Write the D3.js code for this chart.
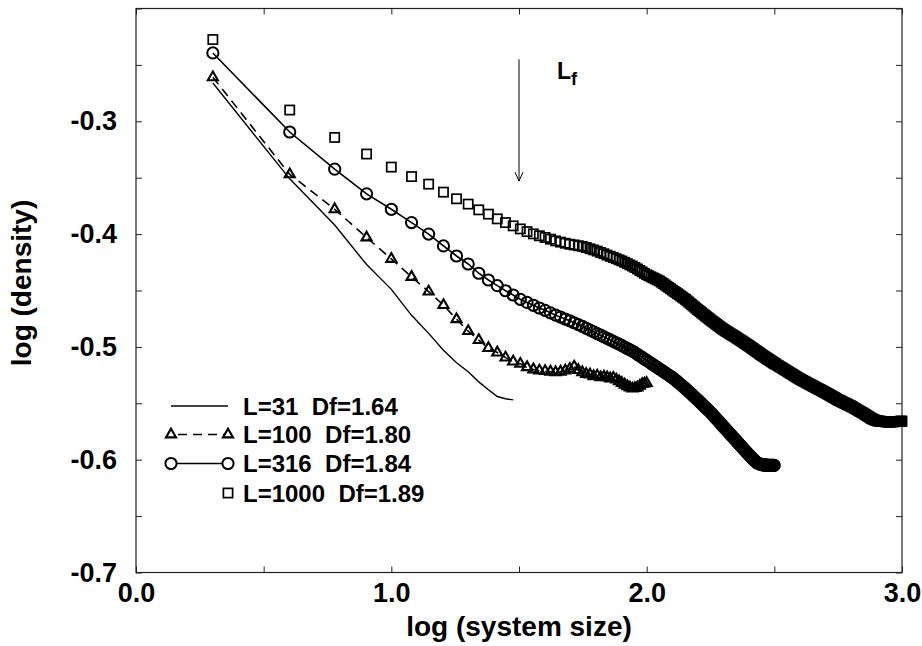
<!DOCTYPE html>
<html>
<head>
<meta charset="utf-8">
<script src="https://cdn.jsdelivr.net/npm/d3@7"></script>
<style>
  body { margin: 0; background: #fff; }
  svg { display: block; }
  text { font-family: "Liberation Sans", Arial, sans-serif; font-weight: bold; fill: #000; }
</style>
</head>
<body>
<svg id="chart" width="922" height="646"></svg>
<script>
// [system size, log(density)]
const l31 = [[2,-0.266],[4,-0.351],[6,-0.392],[8,-0.427],[10,-0.449],[12,-0.472],[14,-0.488],[16,-0.503],
  [18,-0.514],[20,-0.522],[22,-0.531],[24,-0.538],[26,-0.544],[28,-0.546],[30,-0.547]];

const l100 = [[2,-0.261],[4,-0.347],[6,-0.378],[8,-0.403],[10,-0.422],[12,-0.438],[14,-0.451],[16,-0.463],
  [18,-0.4755],[20,-0.486],[22,-0.494],[24,-0.501],[26,-0.505],[28,-0.5095],[30,-0.513],[32,-0.515],
  [34,-0.518],[36,-0.520],[38,-0.521],[40,-0.5215],[42,-0.522],[44,-0.5225],[46,-0.522],[48,-0.521],
  [50,-0.5195],[52,-0.5175],[54,-0.5205],[56,-0.5225],[58,-0.524],[60,-0.5245],[62,-0.526],[64,-0.5255],
  [66,-0.527],[68,-0.5265],[70,-0.527],[72,-0.528],[74,-0.5275],[76,-0.529],[78,-0.5305],[80,-0.532],
  [82,-0.5335],[84,-0.535],[86,-0.536],[88,-0.537],[90,-0.5365],[92,-0.536],[94,-0.5345],[96,-0.533],
  [98,-0.5325],[100,-0.532]];

const l316 = [[2,-0.2394],[4,-0.3095],[6,-0.3424],[8,-0.3643],[10,-0.378],[12,-0.3898],[14,-0.400],[16,-0.4105],
  [18,-0.4194],[20,-0.4265],[22,-0.4347],[24,-0.4407],[26,-0.4457],[28,-0.4502],[30,-0.454],[32,-0.4578],
  [34,-0.4606],[36,-0.4631],[38,-0.4655],[40,-0.4676],[42,-0.4698],[44,-0.4719],[46,-0.4736],[48,-0.4753],
  [50,-0.4769],[52,-0.4786],[54,-0.4802],[56,-0.4818],[58,-0.4835],[60,-0.4851],[62,-0.4867],[64,-0.4882],
  [66,-0.4896],[68,-0.4911],[70,-0.4925],[72,-0.4938],[74,-0.4951],[76,-0.4964],[78,-0.4976],[80,-0.4989],
  [82,-0.5002],[84,-0.5014],[86,-0.5026],[88,-0.5038],[90,-0.5051],[92,-0.5066],[94,-0.508],[96,-0.5093],
  [98,-0.5107],[100,-0.512],[102,-0.5133],[104,-0.5146],[106,-0.5158],[108,-0.517],[110,-0.5182],[112,-0.5194],
  [114,-0.5205],[116,-0.5217],[118,-0.5228],[120,-0.5239],[122,-0.525],[124,-0.526],[126,-0.5271],[128,-0.5284],
  [130,-0.5296],[132,-0.5309],[134,-0.5321],[136,-0.5334],[138,-0.5346],[140,-0.5358],[142,-0.537],[144,-0.5383],
  [146,-0.5395],[148,-0.5408],[150,-0.542],[152,-0.5432],[154,-0.5444],[156,-0.5456],[158,-0.5467],[160,-0.5479],
  [162,-0.5491],[164,-0.5503],[166,-0.5515],[168,-0.5526],[170,-0.5537],[172,-0.5548],[174,-0.5559],[176,-0.557],
  [178,-0.5582],[180,-0.5593],[182,-0.5605],[184,-0.5617],[186,-0.5629],[188,-0.5641],[190,-0.5652],[192,-0.5663],
  [194,-0.5675],[196,-0.5686],[198,-0.5697],[200,-0.5708],[202,-0.5719],[204,-0.5729],[206,-0.574],[208,-0.575],
  [210,-0.5761],[212,-0.5771],[214,-0.5781],[216,-0.5791],[218,-0.5801],[220,-0.5811],[222,-0.5821],[224,-0.5831],
  [226,-0.5841],[228,-0.585],[230,-0.586],[232,-0.5869],[234,-0.5878],[236,-0.5887],[238,-0.5897],[240,-0.5906],
  [242,-0.5915],[244,-0.5924],[246,-0.5933],[248,-0.5941],[250,-0.595],[252,-0.5958],[254,-0.5966],[256,-0.5974],
  [258,-0.5982],[260,-0.599],[262,-0.5998],[264,-0.6005],[266,-0.6013],[268,-0.602],[270,-0.6025],[272,-0.603],
  [274,-0.6033],[276,-0.6036],[278,-0.6039],[280,-0.6042],[282,-0.6044],[284,-0.6045],[286,-0.6046],[288,-0.6046],
  [290,-0.6047],[292,-0.6047],[294,-0.6048],[296,-0.6048],[298,-0.6049],[300,-0.6049],[302,-0.605],[304,-0.605],
  [306,-0.605],[308,-0.605],[310,-0.605],[312,-0.605],[314,-0.605],[316,-0.605]];

const l1000 = [[2,-0.2275],[4,-0.290],[6,-0.3143],[8,-0.329],[10,-0.3406],[12,-0.349],[14,-0.3557],[16,-0.3628],
  [18,-0.3687],[20,-0.3734],[22,-0.3785],[24,-0.3823],[26,-0.3865],[28,-0.3898],[30,-0.3927],[32,-0.3954],
  [34,-0.3978],[36,-0.3998],[38,-0.4015],[40,-0.403],[42,-0.4045],[44,-0.406],[46,-0.4071],[48,-0.4081],
  [50,-0.409],[52,-0.4096],[54,-0.4103],[56,-0.4109],[58,-0.4119],[60,-0.413],[62,-0.414],[64,-0.4151],
  [66,-0.4163],[68,-0.4174],[70,-0.4186],[72,-0.4197],[74,-0.4207],[76,-0.4218],[78,-0.4228],[80,-0.4238],
  [82,-0.425],[84,-0.4262],[86,-0.4273],[88,-0.4284],[90,-0.4296],[92,-0.4309],[94,-0.4322],[96,-0.4335],
  [98,-0.4348],[100,-0.436],[102,-0.4369],[104,-0.4379],[106,-0.4388],[108,-0.4397],[110,-0.4406],[112,-0.4414],
  [114,-0.4426],[116,-0.4438],[118,-0.445],[120,-0.4462],[122,-0.4473],[124,-0.4484],[126,-0.4496],[128,-0.4507],
  [130,-0.4517],[132,-0.4528],[134,-0.4538],[136,-0.4549],[138,-0.4559],[140,-0.4569],[142,-0.4579],[144,-0.4591],
  [146,-0.4602],[148,-0.4614],[150,-0.4625],[152,-0.4636],[154,-0.4646],[156,-0.4657],[158,-0.4668],[160,-0.4677],
  [162,-0.4687],[164,-0.4697],[166,-0.4707],[168,-0.4716],[170,-0.4725],[172,-0.4734],[174,-0.4743],[176,-0.4752],
  [178,-0.4761],[180,-0.4769],[182,-0.4777],[184,-0.4785],[186,-0.4793],[188,-0.4801],[190,-0.4809],[192,-0.4817],
  [194,-0.4825],[196,-0.4832],[198,-0.4839],[200,-0.4846],[202,-0.4852],[204,-0.4858],[206,-0.4864],[208,-0.487],
  [210,-0.4876],[212,-0.4882],[214,-0.4888],[216,-0.4893],[218,-0.4899],[220,-0.4904],[222,-0.491],[224,-0.4915],
  [226,-0.4921],[228,-0.4927],[230,-0.4933],[232,-0.4938],[234,-0.4944],[236,-0.4949],[238,-0.4955],[240,-0.496],
  [242,-0.4966],[244,-0.4971],[246,-0.4977],[248,-0.4982],[250,-0.4987],[252,-0.4992],[254,-0.4998],[256,-0.5003],
  [258,-0.5009],[260,-0.5014],[262,-0.502],[264,-0.5025],[266,-0.503],[268,-0.5035],[270,-0.504],[272,-0.5045],
  [274,-0.505],[276,-0.5055],[278,-0.5061],[280,-0.5066],[282,-0.5071],[284,-0.5075],[286,-0.508],[288,-0.5084],
  [290,-0.5089],[292,-0.5093],[294,-0.5098],[296,-0.5102],[298,-0.5107],[300,-0.5111],[302,-0.5115],[304,-0.5119],
  [306,-0.5124],[308,-0.5128],[310,-0.5132],[312,-0.5136],[314,-0.5141],[316,-0.5145],[318,-0.5149],[320,-0.5152],
  [324,-0.516],[328,-0.5167],[332,-0.5175],[336,-0.5182],[340,-0.5189],[344,-0.5196],[348,-0.5203],[352,-0.521],
  [356,-0.5217],[360,-0.5224],[364,-0.5231],[368,-0.5237],[372,-0.5244],[376,-0.525],[380,-0.5257],[384,-0.5263],
  [388,-0.527],[392,-0.5276],[396,-0.5282],[400,-0.5288],[404,-0.5293],[408,-0.5298],[412,-0.5303],[416,-0.5308],
  [420,-0.5313],[424,-0.5318],[428,-0.5323],[432,-0.5328],[436,-0.5333],[440,-0.5337],[444,-0.5342],[448,-0.5347],
  [452,-0.5352],[456,-0.5356],[460,-0.5361],[464,-0.5365],[468,-0.537],[472,-0.5374],[476,-0.5378],[480,-0.5382],
  [484,-0.5387],[488,-0.5391],[492,-0.5396],[496,-0.54],[500,-0.5404],[504,-0.5408],[508,-0.5413],[512,-0.5417],
  [516,-0.5422],[520,-0.5426],[524,-0.543],[528,-0.5434],[532,-0.5439],[536,-0.5443],[540,-0.5447],[544,-0.5451],
  [548,-0.5455],[552,-0.5459],[556,-0.5464],[560,-0.5468],[564,-0.5472],[568,-0.5475],[572,-0.5478],[576,-0.5481],
  [580,-0.5485],[584,-0.5488],[588,-0.5492],[592,-0.5495],[596,-0.5498],[600,-0.5501],[604,-0.5504],[608,-0.5507],
  [612,-0.5511],[616,-0.5514],[620,-0.5517],[624,-0.552],[628,-0.5523],[632,-0.5526],[636,-0.553],[640,-0.5533],
  [648,-0.554],[656,-0.5547],[664,-0.5554],[672,-0.5561],[680,-0.5568],[688,-0.5574],[696,-0.5581],[704,-0.5587],
  [712,-0.5594],[720,-0.5601],[728,-0.5608],[736,-0.5615],[744,-0.5622],[752,-0.5629],[760,-0.5635],[768,-0.564],
  [776,-0.5645],[784,-0.5649],[792,-0.5653],[800,-0.5656],[808,-0.5657],[816,-0.5658],[824,-0.5659],[832,-0.566],
  [840,-0.5661],[848,-0.5662],[856,-0.5663],[864,-0.5664],[872,-0.5665],[880,-0.5665],[888,-0.5665],[896,-0.5665],
  [904,-0.5665],[912,-0.5664],[920,-0.5664],[928,-0.5663],[936,-0.5663],[944,-0.5662],[952,-0.5662],[960,-0.5661],
  [968,-0.5661],[976,-0.566],[984,-0.566],[992,-0.5659],[996,-0.5659],[1000,-0.5658]];

const legendLabels = ['L=31  Df=1.64', 'L=100  Df=1.80', 'L=316  Df=1.84', 'L=1000  Df=1.89'];

const xTicks = [0, 0.5, 1, 1.5, 2, 2.5, 3];
const xTickLabels = ['0.0', '', '1.0', '', '2.0', '', '3.0'];
const yTicks = [-0.7, -0.65, -0.6, -0.55, -0.5, -0.45, -0.4, -0.35, -0.3, -0.25, -0.2];
const yTickLabels = ['-0.7', '', '-0.6', '', '-0.5', '', '-0.4', '', '-0.3', '', ''];

// arrow marking L_f
const arrowX = 1.5, arrowTop = -0.245, arrowTip = -0.353;

const svg = d3.select('#chart');
const x = d3.scaleLinear().domain([0, 3]).range([136, 902]);
const y = d3.scaleLinear().domain([-0.7, -0.2]).range([572.5, 8.5]);
const px = d => x(Math.log10(d[0]));
const py = d => y(d[1]);

function styleAxis(g) {
  g.select('.domain').remove();
  g.selectAll('line').attr('stroke', '#222').attr('stroke-width', 1);
  g.selectAll('text').attr('font-size', 27).attr('font-family', '"Liberation Sans", Arial, sans-serif')
    .attr('font-weight', 'bold').attr('fill', '#000');
}

svg.append('g').attr('transform', 'translate(0,572.5)')
  .call(d3.axisBottom(x).tickValues(xTicks).tickSize(-6).tickPadding(10).tickFormat((d, i) => xTickLabels[i]))
  .call(styleAxis);
svg.append('g').attr('transform', 'translate(0,8.5)')
  .call(d3.axisTop(x).tickValues(xTicks).tickSize(-6).tickFormat(''))
  .call(styleAxis);
svg.append('g').attr('transform', 'translate(136,0)')
  .call(d3.axisLeft(y).tickValues(yTicks).tickSize(-6).tickPadding(19).tickFormat((d, i) => yTickLabels[i]))
  .call(styleAxis);
svg.append('g').attr('transform', 'translate(902,0)')
  .call(d3.axisRight(y).tickValues(yTicks).tickSize(-6).tickFormat(''))
  .call(styleAxis);

svg.append('rect')
  .attr('x', 136).attr('y', 8.5).attr('width', 766).attr('height', 564)
  .attr('fill', 'none').attr('stroke', '#222').attr('stroke-width', 1.2);

// axis titles
svg.append('text').attr('x', 519).attr('y', 636).attr('text-anchor', 'middle')
  .attr('font-size', 28).text('log (system size)');
svg.append('text').attr('transform', 'translate(31,283) rotate(-90)').attr('text-anchor', 'middle')
  .attr('font-size', 28).text('log (density)');

const line = d3.line().x(px).y(py);
const tri = d3.symbol(d3.symbolTriangle, 44);

// L=31
svg.append('path').datum(l31).attr('d', line)
  .attr('fill', 'none').attr('stroke', '#000').attr('stroke-width', 1.4);

// L=100
svg.append('path').datum(l100).attr('d', line)
  .attr('fill', 'none').attr('stroke', '#000').attr('stroke-width', 1.6).attr('stroke-dasharray', '9,6');
svg.append('g').selectAll('path').data(l100).join('path')
  .attr('d', tri)
  .attr('transform', d => `translate(${px(d)},${py(d)})`)
  .attr('fill', 'none').attr('stroke', '#000').attr('stroke-width', 2.1);

// L=316
svg.append('path').datum(l316).attr('d', line)
  .attr('fill', 'none').attr('stroke', '#000').attr('stroke-width', 1.6);
svg.append('g').selectAll('circle').data(l316).join('circle')
  .attr('cx', px).attr('cy', py).attr('r', 5.6)
  .attr('fill', 'none').attr('stroke', '#000').attr('stroke-width', 2);

// L=1000
svg.append('g').selectAll('rect').data(l1000).join('rect')
  .attr('x', d => px(d) - 4.6).attr('y', d => py(d) - 4.6)
  .attr('width', 9.2).attr('height', 9.2)
  .attr('fill', 'none').attr('stroke', '#000').attr('stroke-width', 1.7);

// arrow and L_f label
svg.append('line')
  .attr('x1', x(arrowX)).attr('x2', x(arrowX)).attr('y1', y(arrowTop)).attr('y2', y(arrowTip))
  .attr('stroke', '#000').attr('stroke-width', 1);
svg.append('path')
  .attr('d', `M${x(arrowX) - 4},${y(arrowTip) - 9} L${x(arrowX)},${y(arrowTip)} L${x(arrowX) + 4},${y(arrowTip) - 9}`)
  .attr('fill', 'none').attr('stroke', '#000').attr('stroke-width', 1);
const lf = svg.append('text').attr('x', 557).attr('y', 79).attr('font-size', 23);
lf.append('tspan').text('L');
lf.append('tspan').attr('font-size', 18).attr('dy', 6).text('f');

// legend
const legY = [406, 434.5, 463.5, 493];
const lx0 = 171, lx1 = 228;
const leg = svg.append('g');
leg.append('line').attr('x1', lx0).attr('x2', lx1).attr('y1', legY[0]).attr('y2', legY[0])
  .attr('stroke', '#000').attr('stroke-width', 1.4);
leg.append('line').attr('x1', lx0 + 4).attr('x2', lx1 - 4).attr('y1', legY[1]).attr('y2', legY[1])
  .attr('stroke', '#000').attr('stroke-width', 1.6).attr('stroke-dasharray', '9,6').attr('stroke-dashoffset', -3);
[lx0, lx1].forEach(cx => {
  leg.append('path').attr('d', tri).attr('transform', `translate(${cx},${legY[1]})`)
    .attr('fill', 'none').attr('stroke', '#000').attr('stroke-width', 2.1);
});
leg.append('line').attr('x1', lx0 + 5).attr('x2', lx1 - 5).attr('y1', legY[2]).attr('y2', legY[2])
  .attr('stroke', '#000').attr('stroke-width', 1.6);
[lx0, lx1].forEach(cx => {
  leg.append('circle').attr('cx', cx).attr('cy', legY[2]).attr('r', 5.6)
    .attr('fill', 'none').attr('stroke', '#000').attr('stroke-width', 2);
});
leg.append('rect').attr('x', lx1 - 4.6).attr('y', legY[3] - 4.6).attr('width', 9.2).attr('height', 9.2)
  .attr('fill', 'none').attr('stroke', '#000').attr('stroke-width', 1.7);
leg.selectAll('text.lab').data(legendLabels).join('text')
  .attr('class', 'lab')
  .attr('x', 243).attr('y', (d, i) => legY[i]).attr('dy', '0.36em')
  .attr('font-size', 24).attr('xml:space', 'preserve').style('white-space', 'pre')
  .text(d => d);
</script>
</body>
</html>
